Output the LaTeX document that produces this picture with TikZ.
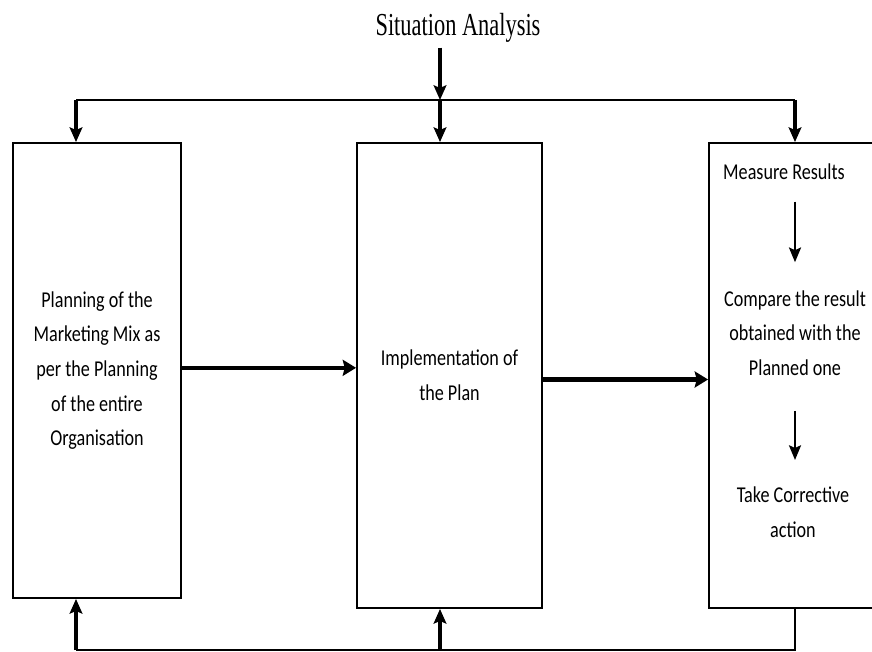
\documentclass[tikz,border=0pt]{standalone}
\usepackage{fontspec}
\setmainfont{Liberation Serif}[FakeStretch=0.7]
\newfontfamily\boxfont{Carlito}[FakeStretch=0.8]
\usetikzlibrary{arrows.meta}

\tikzset{
  box/.style={draw,line width=1.4pt,inner sep=0pt},
  txt/.style={font=\boxfont\fontsize{17}{26}\selectfont,align=center},
  rail/.style={line width=1.6pt},
  drop/.style={line width=2.4pt,-{Stealth[length=11pt,width=9.5pt,inset=2pt]}},
  feed/.style={line width=3.4pt,-{Stealth[length=10pt,width=12pt,inset=1.5pt]}},
  flow/.style={line width=1.8pt,-{Stealth[length=11pt,width=9pt,inset=2pt]}}
}

\begin{document}
\begin{tikzpicture}[x=0.75pt,y=-0.75pt]
      \useasboundingbox (0,0) rectangle (872,652);
      \clip (0,0) rectangle (872,652);

      \node [font=\fontsize{24}{28}\selectfont,anchor=base] (sit) at (458,36) {Situation Analysis};

      \node [box,txt,minimum width=126pt,minimum height=341.25pt] (plan) at (97,370.5)
        {Planning of the\\Marketing Mix as\\per the Planning\\of the entire\\Organisation};
      \node [box,txt,minimum width=138.75pt,minimum height=348.75pt] (impl) at (449.5,375.5)
        {Implementation of\\the Plan};
      \node [box,minimum width=135pt,minimum height=348.75pt] (review) at (799,375.5) {};

      \node [txt] (measure) at (784,172) {Measure Results};
      \node [txt] (compare) at (795,333) {Compare the result\\obtained with the\\Planned one};
      \node [txt] (correct) at (793,512) {Take Corrective\\action};

      \draw [flow,shorten <=12.75pt,shorten >=17.6pt] (measure.south -| compare.north) -- (compare.north);
      \draw [flow,shorten <=23pt,shorten >=16.5pt] (compare.south) -- (compare.south |- correct.north);

      % top feed from the situation analysis
      \coordinate (tl) at (76,100);
      \coordinate (tm) at (440,100);
      \coordinate (tr) at (795,100);
      \draw [rail] (tl) -- (tr);
      \draw [drop] (sit.south -| tm) -- (tm);
      \foreach \c/\n in {tl/plan,tm/impl,tr/review}
        \draw [drop] (\c) -- (\c |- \n.north);

      \draw [feed] ([yshift=2pt]plan.east) -- ([yshift=2pt]plan.east -| impl.west);
      \draw [feed] ([yshift=-3pt]impl.east) -- ([yshift=-3pt]impl.east -| review.west);

      % feedback loop at the bottom
      \coordinate (bl) at (76,650);
      \coordinate (bm) at (440,650);
      \coordinate (br) at (795,650);
      \draw [rail] (review.south -| br) -- (br) -- (bl);
      \foreach \c/\n in {bl/plan,bm/impl}
        \draw [drop] (\c) -- (\c |- \n.south);
\end{tikzpicture}
\end{document}
